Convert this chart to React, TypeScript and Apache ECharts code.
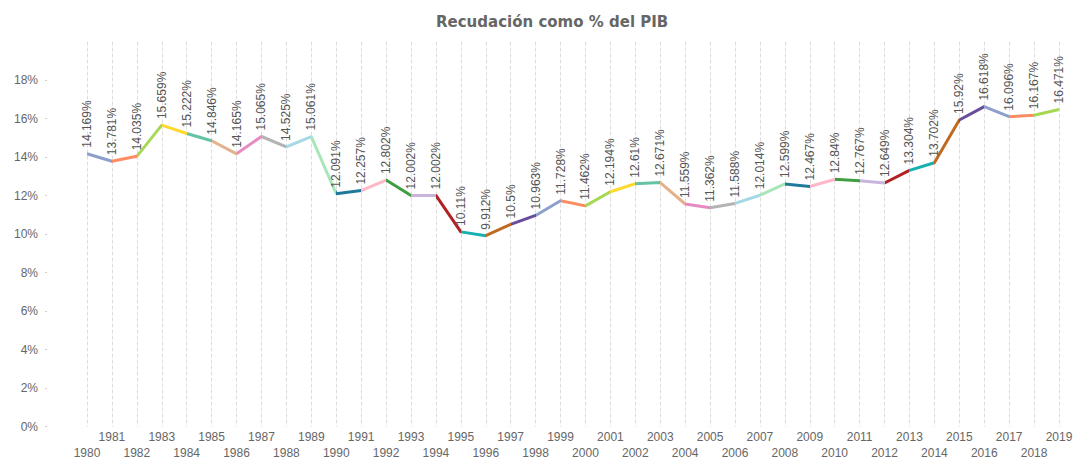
import React, { useEffect, useRef } from "react";
import * as echarts from "echarts";

const years = [
  "1980", "1981", "1982", "1983", "1984", "1985", "1986", "1987", "1988", "1989",
  "1990", "1991", "1992", "1993", "1994", "1995", "1996", "1997", "1998", "1999",
  "2000", "2001", "2002", "2003", "2004", "2005", "2006", "2007", "2008", "2009",
  "2010", "2011", "2012", "2013", "2014", "2015", "2016", "2017", "2018", "2019",
];

const recaudacion = [
  14.169, 13.781, 14.035, 15.659, 15.222, 14.846, 14.165, 15.065, 14.525, 15.061,
  12.091, 12.257, 12.802, 12.002, 12.002, 10.11, 9.912, 10.5, 10.963, 11.728,
  11.462, 12.194, 12.61, 12.671, 11.559, 11.362, 11.588, 12.014, 12.599, 12.467,
  12.84, 12.767, 12.649, 13.304, 13.702, 15.92, 16.618, 16.096, 16.167, 16.471,
];

const yTicks = [0, 2, 4, 6, 8, 10, 12, 14, 16, 18];

const segmentColors = [
  "#8DA0CB", "#FC8D62", "#A6D854", "#FFD92F", "#66C2A5", "#E3B28C",
  "#E78AC3", "#B3B3B3", "#A6D8E6", "#A8E6B8", "#1F7A99", "#FFB6C6",
  "#3F9E3F", "#C8B4DC", "#B22222", "#17B0B0", "#C06A20", "#6A4C9C",
];

export default function App() {
  const ref = useRef<HTMLDivElement>(null);

  useEffect(() => {
    if (!ref.current) return;
    const chart = echarts.init(ref.current, undefined, { renderer: "svg" });

    const n = years.length;
    const pieces = years.slice(0, n - 1).map((_, i) =>
      i === n - 2
        ? { gte: i, lte: i + 1, color: segmentColors[i % segmentColors.length] }
        : { gte: i, lt: i + 1, color: segmentColors[i % segmentColors.length] }
    );

    const axisLabelBase = {
      color: "#666",
      fontSize: 12,
      fontFamily: "Liberation Sans",
    };

    chart.setOption({
      animation: false,
      title: {
        text: "Recudación como % del PIB",
        left: 431,
        top: 9,
        textStyle: {
          fontFamily: "DejaVu Sans",
          fontWeight: "bold",
          fontSize: 15,
          color: "#666",
        },
      },
      grid: { left: 87, right: 21, top: 41.5, bottom: 35.5, containLabel: false },
      visualMap: {
        show: false,
        type: "piecewise",
        dimension: 0,
        seriesIndex: 0,
        pieces,
      },
      xAxis: [
        {
          type: "category",
          position: "bottom",
          data: years,
          boundaryGap: false,
          axisLine: { show: false },
          axisTick: { show: false },
          splitLine: {
            show: true,
            interval: 0,
            lineStyle: { type: "dashed", color: "#dddddd", width: 1 },
          },
          axisLabel: {
            ...axisLabelBase,
            interval: (i: number) => i % 2 === 1,
            margin: 4,
          },
        },
        {
          type: "category",
          position: "bottom",
          data: years,
          boundaryGap: false,
          axisLine: { show: false },
          axisTick: { show: false },
          splitLine: { show: false },
          axisLabel: {
            ...axisLabelBase,
            interval: (i: number) => i % 2 === 0,
            margin: 20,
          },
        },
      ],
      yAxis: {
        type: "value",
        min: 0,
        max: 20,
        interval: 2,
        offset: 40,
        axisLine: { show: false },
        splitLine: { show: false },
        axisTick: {
          show: true,
          length: 2,
          customValues: yTicks,
          lineStyle: { color: "#cccccc" },
        },
        axisLabel: {
          ...axisLabelBase,
          margin: 9,
          customValues: yTicks,
          formatter: (v: number) => `${v}%`,
        },
      },
      series: [
        {
          type: "line",
          xAxisIndex: 0,
          data: recaudacion,
          symbol: "circle",
          symbolSize: 0,
          showSymbol: true,
          lineStyle: { width: 3 },
          label: {
            show: true,
            position: "top",
            rotate: 90,
            align: "left",
            verticalAlign: "middle",
            distance: 6,
            color: "#555",
            fontSize: 12,
            fontFamily: "Liberation Sans",
            formatter: (p: any) => `${p.value}%`,
          },
        },
      ],
    });

    return () => chart.dispose();
  }, []);

  return (
    <div
      ref={ref}
      style={{ position: "absolute", left: 0, top: 0, width: 1080, height: 462 }}
    />
  );
}
